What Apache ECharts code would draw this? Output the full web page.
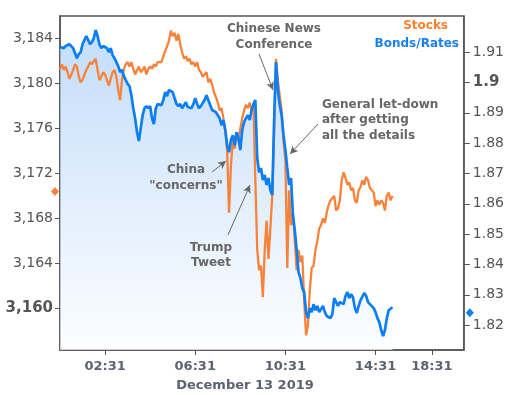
<!DOCTYPE html>
<html>
<head>
<meta charset="utf-8">
<script src="https://cdn.jsdelivr.net/npm/echarts@6/dist/echarts.min.js"></script>
<style>
html,body{margin:0;padding:0;background:#fff;}
#chart{width:507px;height:395px;}
</style>
</head>
<body>
<div id="chart"></div>
<script>
// ---- data ----
// x ticks shown on the axis
const tickLabels = ['02:31', '06:31', '10:31', '14:31', '18:31'];
const xTitle = 'December 13 2019';
// left axis (stocks) tick values and range
const stockTicks = [3160, 3164, 3168, 3172, 3176, 3180, 3184];
const stockRange = [3156.3, 3186.0];
// right axis (bonds/rates) tick values and range
const rateTicks = [1.82, 1.83, 1.84, 1.85, 1.86, 1.87, 1.88, 1.89, 1.90, 1.91];
const rateRange = [1.8118, 1.9219];
// current-level markers on each axis
const stockMarker = 3170.4;
const rateMarker = 1.8241;

// S&P level (5-minute samples from 00:31)
const stocks = [
3181.3,3181.7,3181.2,3181.5,3181.0,3180.4,3180.3,3181.2,3181.7,3181.5,
3180.6,3180.1,3180.3,3180.8,3181.2,3181.5,3181.9,3181.7,3182.0,3182.2,
3181.2,3180.3,3180.6,3181.0,3180.8,3180.3,3179.8,3180.4,3181.0,3181.2,
3180.6,3179.4,3178.5,3180.3,3181.3,3181.7,3181.9,3181.5,3181.9,3181.3,
3180.8,3181.2,3181.5,3181.0,3181.2,3181.5,3180.8,3181.3,3181.5,3181.3,
3181.7,3181.5,3181.9,3182.0,3181.9,3182.4,3182.9,3183.3,3183.8,3184.7,
3184.2,3184.5,3183.8,3184.4,3183.5,3182.8,3182.2,3182.4,3182.0,3182.2,
3181.7,3181.9,3181.5,3181.9,3181.2,3181.0,3180.6,3180.8,3181.0,3180.1,
3180.4,3179.9,3179.2,3178.8,3178.3,3177.6,3177.8,3176.9,3175.8,3174.0,
3168.5,3172.7,3174.9,3174.2,3175.4,3174.9,3176.0,3176.9,3177.6,3178.1,
3177.8,3178.3,3177.6,3178.1,3171.4,3165.2,3163.4,3163.8,3161.0,3165.2,
3167.8,3164.4,3167.1,3170.0,3175.8,3182.2,3180.3,3178.9,3177.6,3174.9,
3173.2,3163.6,3170.5,3167.4,3168.5,3166.0,3163.4,3165.2,3164.1,3164.7,
3160.7,3157.6,3158.5,3161.6,3163.6,3163.8,3165.2,3166.0,3167.1,3167.4,
3168.0,3167.6,3168.5,3169.2,3169.6,3169.8,3170.0,3168.7,3168.9,3169.6,
3171.4,3172.1,3171.6,3171.0,3171.2,3170.5,3170.7,3169.6,3169.4,3170.5,
3170.8,3171.4,3171.0,3171.7,3171.4,3170.7,3170.8,3170.3,3169.1,3169.6,
3169.2,3169.6,3169.4,3168.7,3170.0,3170.3,3169.6,3170.0
];

// 10yr yield (same samples)
const bonds = [
1.9117,1.9123,1.9113,1.9120,1.9117,1.9126,1.9120,1.9113,1.9107,1.9080,
1.9093,1.9100,1.9126,1.9140,1.9153,1.9140,1.9126,1.9133,1.9146,1.9173,
1.9153,1.9126,1.9113,1.9120,1.9126,1.9113,1.9100,1.9113,1.9090,1.9080,
1.9067,1.9054,1.9034,1.9041,1.9021,1.9008,1.8995,1.8988,1.8958,1.8915,
1.8882,1.8836,1.8807,1.8850,1.8892,1.8915,1.8922,1.8915,1.8922,1.8882,
1.8863,1.8915,1.8929,1.8935,1.8925,1.8942,1.8968,1.8955,1.8975,1.8981,
1.8968,1.8948,1.8929,1.8922,1.8929,1.8915,1.8925,1.8935,1.8919,1.8925,
1.8915,1.8929,1.8948,1.8929,1.8915,1.8922,1.8925,1.8942,1.8958,1.8962,
1.8925,1.8909,1.8915,1.8902,1.8899,1.8882,1.8859,1.8876,1.8843,1.8793,
1.8770,1.8810,1.8826,1.8793,1.8836,1.8817,1.8777,1.8843,1.8869,1.8882,
1.8892,1.8876,1.8909,1.8929,1.8942,1.8751,1.8704,1.8718,1.8678,1.8695,
1.8662,1.8685,1.8645,1.8629,1.8876,1.9067,1.8975,1.8925,1.8892,1.8826,
1.8777,1.8718,1.8662,1.8685,1.8563,1.8513,1.8447,1.8375,1.8355,1.8322,
1.8309,1.8243,1.8223,1.8256,1.8243,1.8269,1.8249,1.8263,1.8243,1.8249,
1.8263,1.8243,1.8230,1.8236,1.8223,1.8236,1.8289,1.8276,1.8263,1.8276,
1.8282,1.8269,1.8296,1.8309,1.8289,1.8302,1.8292,1.8256,1.8240,1.8263,
1.8282,1.8276,1.8306,1.8296,1.8276,1.8269,1.8263,1.8256,1.8243,1.8223,
1.8210,1.8184,1.8164,1.8184,1.8223,1.8249,1.8253,1.8259
];

// time categories: 5-minute steps 00:31-14:31, then 8-minute steps after
function hhmm(m) {
  const h = Math.floor(m / 60), mm = m % 60;
  return String(h).padStart(2, '0') + ':' + String(mm).padStart(2, '0');
}
const categories = [];
for (let i = 0; i <= 168; i++) categories.push(hhmm(31 + 5 * i));
for (let j = 1; j <= 47; j++) categories.push(hhmm(31 + 840 + 8 * j));

// ---- chart ----
const chart = echarts.init(document.getElementById('chart'), null, {renderer: 'canvas'});
const axisCol = '#555';
const labelCol = '#555';
const annCol = '#666';
const FONT = 'DejaVu Sans';

function fmtStock(v) {
  const s = Math.round(v).toString();
  return s.slice(0, 1) + ',' + s.slice(1);
}

const option = {
  animation: false,
  backgroundColor: '#fff',
  grid: {left: 60, right: 43, top: 16, bottom: 45, show: true, borderColor: axisCol, borderWidth: 1.5, backgroundColor: 'transparent'},
  xAxis: {
    type: 'category',
    data: categories,
    boundaryGap: false,
    axisLine: {lineStyle: {color: axisCol, width: 1.5}},
    axisTick: {show: true, length: 5, lineStyle: {color: axisCol}, interval: (i, v) => tickLabels.includes(v)},
    axisLabel: {interval: (i, v) => tickLabels.includes(v), color: '#5b6270', fontFamily: FONT, fontWeight: 'bold', fontSize: 13, margin: 10},
    splitLine: {show: false}
  },
  yAxis: [
    {
      type: 'value', position: 'left', min: stockRange[0], max: stockRange[1],
      axisLine: {show: true, lineStyle: {color: axisCol, width: 1.5}},
      axisTick: {show: true, length: 5, lineStyle: {color: axisCol}, customValues: stockTicks},
      axisLabel: {
        customValues: stockTicks, color: labelCol, fontFamily: FONT, fontSize: 14, margin: 7,
        formatter: v => v === 3160 ? '{b|' + fmtStock(v) + '}' : fmtStock(v),
        rich: {b: {fontWeight: 'bold', fontSize: 15, color: labelCol, fontFamily: FONT}}
      },
      splitLine: {show: false}
    },
    {
      type: 'value', position: 'right', min: rateRange[0], max: rateRange[1],
      axisLine: {show: true, lineStyle: {color: axisCol, width: 1.5}},
      axisTick: {show: true, length: 6, lineStyle: {color: axisCol}, customValues: rateTicks},
      axisLabel: {
        customValues: rateTicks, color: labelCol, fontFamily: FONT, fontSize: 14, margin: 9,
        formatter: v => Math.abs(v - 1.9) < 1e-9 ? '{b|1.9}' : v.toFixed(2),
        rich: {b: {fontWeight: 'bold', fontSize: 15, color: labelCol, fontFamily: FONT}}
      },
      splitLine: {show: false}
    }
  ],
  series: [
    {
      name: 'BondsArea', type: 'line', yAxisIndex: 1, data: bonds, symbol: 'none', silent: true, z: 1,
      lineStyle: {width: 0},
      areaStyle: {
        origin: 'start',
        color: {type: 'linear', x: 0, y: 0, x2: 0, y2: 1, colorStops: [
          {offset: 0, color: '#a9cef8'}, {offset: 0.5, color: '#d3e6fb'}, {offset: 1, color: '#fbfdff'}
        ]}
      },
      markLine: {
        silent: true, symbol: ['none', 'arrow'], symbolSize: [6, 8],
        label: {show: false},
        lineStyle: {color: annCol, width: 1, type: 'solid'},
        data: [
          [{x: 259, y: 54}, {x: 273, y: 90}],
          [{x: 318, y: 124}, {x: 290, y: 154}],
          [{x: 212, y: 172}, {x: 226, y: 161}],
          [{x: 228, y: 235}, {x: 250, y: 185}]
        ]
      }
    },
    {
      name: 'Stocks', type: 'line', yAxisIndex: 0, data: stocks, symbol: 'none', z: 2,
      lineStyle: {color: '#f9823a', width: 2.3},
      markPoint: {
        silent: true, label: {show: false},
        data: [{coord: [categories[0], stockMarker], symbol: 'diamond', symbolSize: [8, 9], symbolOffset: [-5, 0], itemStyle: {color: '#f9823a'}}]
      }
    },
    {
      name: 'Bonds', type: 'line', yAxisIndex: 1, data: bonds, symbol: 'none', z: 3,
      lineStyle: {color: '#0b7ef3', width: 2.7},
      markPoint: {
        silent: true, label: {show: false},
        data: [{coord: [categories[categories.length - 1], rateMarker], symbol: 'diamond', symbolSize: [8, 9], symbolOffset: [6, 0], itemStyle: {color: '#0b7ef3'}}]
      }
    }
  ],
  graphic: [
    {type: 'text', z: 10, style: {text: 'Stocks', x: 448, y: 26, align: 'right', verticalAlign: 'middle', font: 'bold 12px ' + FONT, fill: '#ff7f2a'}},
    {type: 'text', z: 10, style: {text: 'Bonds/Rates', x: 459, y: 44, align: 'right', verticalAlign: 'middle', font: 'bold 12px ' + FONT, fill: '#1a80f0'}},
    {type: 'text', z: 10, style: {text: 'Chinese News\nConference', x: 274, y: 37, align: 'center', verticalAlign: 'middle', lineHeight: 16, font: 'bold 12px ' + FONT, fill: annCol}},
    {type: 'text', z: 10, style: {text: 'General let-down\nafter getting\nall the details', x: 322, y: 120, align: 'left', verticalAlign: 'middle', lineHeight: 15.5, font: 'bold 12px ' + FONT, fill: annCol}},
    {type: 'text', z: 10, style: {text: 'China\n"concerns"', x: 186, y: 178, align: 'center', verticalAlign: 'middle', lineHeight: 15.5, font: 'bold 12px ' + FONT, fill: annCol}},
    {type: 'text', z: 10, style: {text: 'Trump\nTweet', x: 211, y: 255.5, align: 'center', verticalAlign: 'middle', lineHeight: 15, font: 'bold 12px ' + FONT, fill: annCol}},
    {type: 'text', z: 10, style: {text: xTitle, x: 245, y: 386, align: 'center', verticalAlign: 'middle', font: 'bold 13px ' + FONT, fill: '#5b6270'}}
  ]
};
chart.setOption(option);
</script>
</body>
</html>
